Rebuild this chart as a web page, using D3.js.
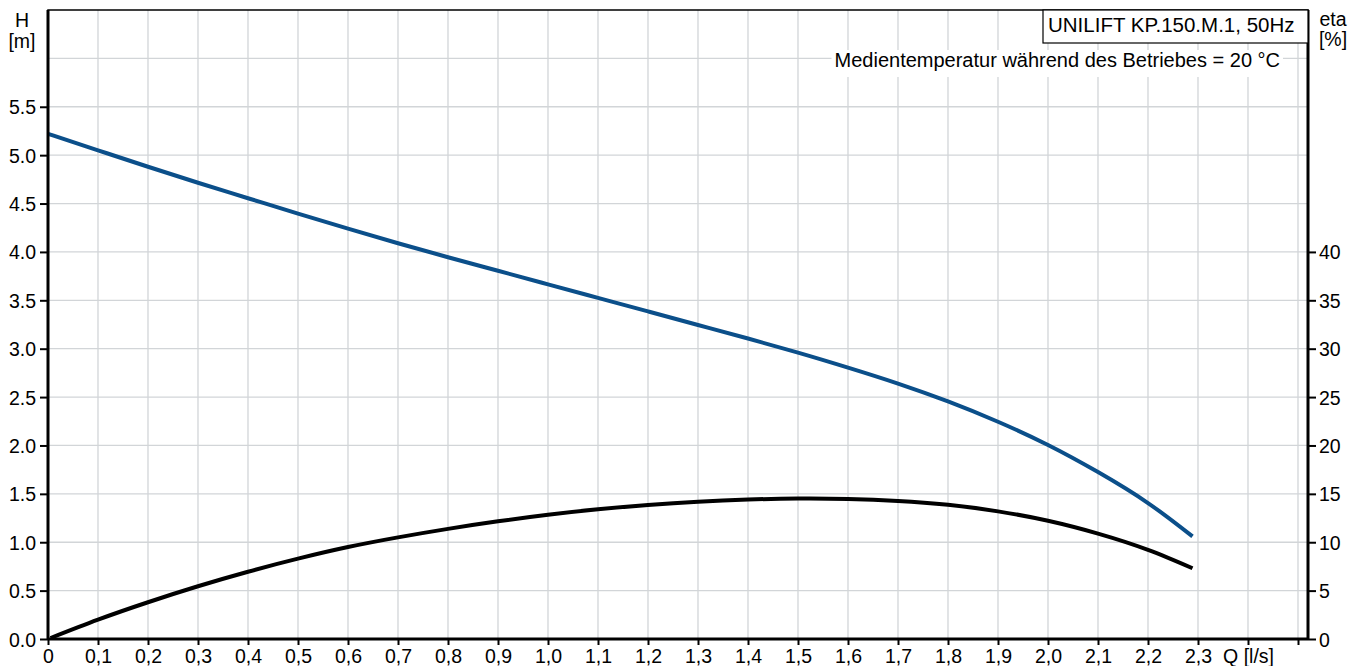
<!DOCTYPE html>
<html>
<head>
<meta charset="utf-8">
<script src="https://cdn.jsdelivr.net/npm/d3@7"></script>
<style>
  body { margin: 0; background: #fff; }
  svg text { font-family: "Liberation Sans", Arial, sans-serif; fill: #000; }
</style>
</head>
<body>
<svg id="chart" width="1359" height="666"></svg>
<script>
// ---- data ----
const flowQ = [0, 0.1, 0.2, 0.3, 0.4, 0.5, 0.6, 0.7, 0.8, 0.9, 1.0, 1.1, 1.2, 1.3, 1.4, 1.5, 1.6, 1.7, 1.8, 1.9, 2.0, 2.1, 2.2, 2.289];
const headH = [5.22, 5.05, 4.88, 4.715, 4.555, 4.395, 4.24, 4.09, 3.945, 3.805, 3.665, 3.525, 3.385, 3.245, 3.105, 2.96, 2.805, 2.64, 2.455, 2.245, 2.005, 1.725, 1.405, 1.06];
const effQ = [0.005, 0.1, 0.2, 0.3, 0.4, 0.5, 0.6, 0.7, 0.8, 0.9, 1.0, 1.1, 1.2, 1.3, 1.4, 1.5, 1.6, 1.7, 1.8, 1.9, 2.0, 2.1, 2.2, 2.289];
const effEta = [0.1, 2.0, 3.8, 5.45, 6.95, 8.3, 9.5, 10.5, 11.38, 12.16, 12.84, 13.40, 13.85, 14.19, 14.41, 14.51, 14.47, 14.27, 13.87, 13.19, 12.22, 10.89, 9.21, 7.31];
const xTicks = [0, 0.1, 0.2, 0.3, 0.4, 0.5, 0.6, 0.7, 0.8, 0.9, 1.0, 1.1, 1.2, 1.3, 1.4, 1.5, 1.6, 1.7, 1.8, 1.9, 2.0, 2.1, 2.2, 2.3, 2.4, 2.5];
const xTickLabels = ["0", "0,1", "0,2", "0,3", "0,4", "0,5", "0,6", "0,7", "0,8", "0,9", "1,0", "1,1", "1,2", "1,3", "1,4", "1,5", "1,6", "1,7", "1,8", "1,9", "2,0", "2,1", "2,2", "2,3", "Q [l/s]", ""];
const hTicks = [0, 0.5, 1.0, 1.5, 2.0, 2.5, 3.0, 3.5, 4.0, 4.5, 5.0, 5.5];
const hGrid = [0.5, 1.0, 1.5, 2.0, 2.5, 3.0, 3.5, 4.0, 4.5, 5.0, 5.5, 6.0];
const etaTicks = [0, 5, 10, 15, 20, 25, 30, 35, 40];
const titleText = "UNILIFT KP.150.M.1, 50Hz";
const subText = "Medientemperatur während des Betriebes = 20 °C";

// ---- layout ----
const L = 48, R = 1308, T = 10, B = 639;
const svg = d3.select("#chart");
const x = d3.scaleLinear().domain([0, 2.52]).range([L, R]);
const yH = d3.scaleLinear().domain([0, 6.5]).range([B, T]);
const yE = d3.scaleLinear().domain([0, 65]).range([B, T]);

// grid
const grid = svg.append("g").attr("stroke", "#d2d5d8").attr("stroke-width", 1.3);
grid.selectAll("line.v").data(xTicks.slice(1)).join("line")
  .attr("x1", d => x(d)).attr("x2", d => x(d)).attr("y1", T).attr("y2", B);
grid.selectAll("line.h").data(hGrid).join("line")
  .attr("y1", d => yH(d)).attr("y2", d => yH(d)).attr("x1", L).attr("x2", R);

// subtitle background + text
const subG = svg.append("g");
const subT = subG.append("text").attr("x", 1280).attr("y", 67).attr("text-anchor", "end")
  .attr("font-size", 20).text(subText);
const sb = subT.node().getBBox();
subG.insert("rect", "text").attr("x", sb.x - 3).attr("y", 50).attr("width", sb.width + 6).attr("height", 27).attr("fill", "#fff");

// curves
const line = d3.line().curve(d3.curveNatural);
svg.append("path")
  .attr("d", line(flowQ.map((q, i) => [x(q), yH(headH[i])])))
  .attr("fill", "none").attr("stroke", "#0b4f8a").attr("stroke-width", 4);
svg.append("path")
  .attr("d", line(effQ.map((q, i) => [x(q), yE(effEta[i])])))
  .attr("fill", "none").attr("stroke", "#000").attr("stroke-width", 4);

// frame
svg.append("rect").attr("x", L).attr("y", T).attr("width", R - L).attr("height", B - T)
  .attr("fill", "none").attr("stroke", "#000").attr("stroke-width", 1.5);

// axes
const fs = 19.5;
const xAxis = svg.append("g").attr("transform", `translate(0,${B})`)
  .call(d3.axisBottom(x).tickValues(xTicks).tickSize(6).tickPadding(2)
    .tickFormat((d, i) => xTickLabels[i]));
const yAxisL = svg.append("g").attr("transform", `translate(${L},0)`)
  .call(d3.axisLeft(yH).tickValues(hTicks).tickSize(8).tickPadding(4).tickFormat(d3.format(".1f")));
const yAxisR = svg.append("g").attr("transform", `translate(${R},0)`)
  .call(d3.axisRight(yE).tickValues(etaTicks).tickSize(8).tickPadding(3).tickFormat(d3.format("d")));
[xAxis, yAxisL, yAxisR].forEach(g => {
  g.select(".domain").attr("stroke", "#000").attr("stroke-width", 3);
  g.selectAll(".tick line").attr("stroke", "#000").attr("stroke-width", 2);
  g.selectAll(".tick text").attr("font-size", fs).attr("font-family", "Liberation Sans, Arial, sans-serif").attr("fill", "#000");
});
xAxis.select(".domain").attr("d", `M${L},0H${R}`);
yAxisL.select(".domain").attr("d", `M0,${B}V${T}`);
yAxisR.select(".domain").attr("d", `M0,${B}V${T}`);
xAxis.selectAll(".tick text").attr("dy", "0.8em");
yAxisL.selectAll(".tick text").attr("dy", "0.36em");
yAxisR.selectAll(".tick text").attr("dy", "0.36em");

// title box
const tb = svg.append("g");
tb.append("rect").attr("x", 1043).attr("y", T).attr("width", R - 1043).attr("height", 33)
  .attr("fill", "#fff").attr("stroke", "#000").attr("stroke-width", 1.2);
tb.append("text").attr("x", 1048).attr("y", 32).attr("font-size", 20.5).text(titleText);

// axis titles
svg.append("text").attr("x", 22).attr("y", 27).attr("text-anchor", "middle").attr("font-size", fs).text("H");
svg.append("text").attr("x", 22).attr("y", 48).attr("text-anchor", "middle").attr("font-size", fs).text("[m]");
svg.append("text").attr("x", 1333).attr("y", 26).attr("text-anchor", "middle").attr("font-size", fs).text("eta");
svg.append("text").attr("x", 1333).attr("y", 46).attr("text-anchor", "middle").attr("font-size", fs).text("[%]");
</script>
</body>
</html>
